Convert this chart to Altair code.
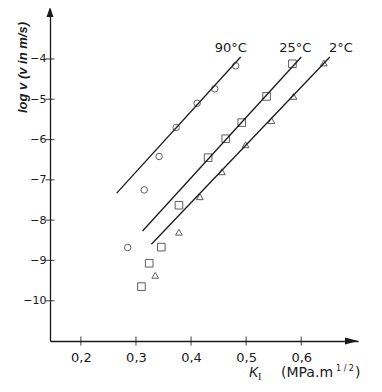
import altair as alt
import pandas as pd

# ---- data ----
k90 = [0.285, 0.315, 0.342, 0.373, 0.411, 0.443, 0.481]
v90 = [-8.68, -7.25, -6.42, -5.70, -5.10, -4.74, -4.17]
k25 = [0.310, 0.324, 0.346, 0.378, 0.431, 0.463, 0.492, 0.537, 0.584]
v25 = [-9.65, -9.07, -8.67, -7.63, -6.45, -5.98, -5.58, -4.93, -4.12]
k2 = [0.335, 0.378, 0.416, 0.456, 0.499, 0.546, 0.586, 0.641]
v2 = [-9.37, -8.30, -7.42, -6.80, -6.13, -5.53, -4.93, -4.10]

line_k90 = [0.265, 0.490]
line_v90 = [-7.33, -3.95]
line_k25 = [0.312, 0.600]
line_v25 = [-8.27, -3.95]
line_k2 = [0.328, 0.652]
line_v2 = [-8.60, -3.95]

series_labels = ["90°C", "25°C", "2°C"]
label_k = [0.472, 0.589, 0.672]
label_v = [-3.73, -3.73, -3.73]

xticks = [0.2, 0.3, 0.4, 0.5, 0.6]
yticks = [-10, -9, -8, -7, -6, -5, -4]

XDOM = [0.144, 0.703]
YDOM = [-11.0, -2.76]
W, H = 308, 332
FONT = "DejaVu Sans"
INK = "#1a1a1a"

xs = alt.Scale(domain=XDOM, nice=False, zero=False)
ys = alt.Scale(domain=YDOM, nice=False, zero=False)

pts = pd.DataFrame(
    {"K": k90 + k25 + k2,
     "v": v90 + v25 + v2,
     "s": ["90"] * len(k90) + ["25"] * len(k25) + ["2"] * len(k2)}
)
lines = pd.DataFrame(
    {"K": line_k90 + line_k25 + line_k2,
     "v": line_v90 + line_v25 + line_v2,
     "s": ["90", "90", "25", "25", "2", "2"]}
)
labs = pd.DataFrame({"K": label_k, "v": label_v, "t": series_labels})
xt = pd.DataFrame({"K": xticks})
yt = pd.DataFrame({"v": yticks})

x_axis = alt.Axis(
    values=xticks, ticks=False, tickSize=0, grid=False, domainColor=INK, domainWidth=1.3,
    labelExpr="replace(format(datum.value, '.1f'), '.', ',')",
    labelFont=FONT, labelFontSize=13, labelColor=INK, labelPadding=10, title=None,
)
y_axis = alt.Axis(
    values=yticks, ticks=False, tickSize=0, grid=False, domainColor=INK, domainWidth=1.3,
    format="d", labelFont=FONT, labelFontSize=11, labelColor=INK, labelPadding=4,
    title="log v  (v in m/s)", titleFont="Liberation Sans", titleFontSize=13,
    titleFontStyle="italic", titleFontWeight="bold", titleColor=INK,
    titleAngle=270, titleX=-28, titleY=58, titleAlign="center", titleBaseline="middle",
)

base_pts = alt.Chart(pts).encode(
    x=alt.X("K:Q", scale=xs, axis=x_axis),
    y=alt.Y("v:Q", scale=ys, axis=y_axis),
)

circles = base_pts.transform_filter("datum.s == '90'").mark_point(
    shape="circle", filled=False, color=INK, size=42, strokeWidth=1)
squares = base_pts.transform_filter("datum.s == '25'").mark_point(
    shape="square", filled=False, color=INK, size=58, strokeWidth=1)
tris = base_pts.transform_filter("datum.s == '2'").mark_point(
    shape="triangle-up", filled=False, color=INK, size=45, strokeWidth=1)

fit = alt.Chart(lines).mark_line(color=INK, strokeWidth=1.3).encode(
    x=alt.X("K:Q", scale=xs),
    y=alt.Y("v:Q", scale=ys),
    detail="s:N",
)

labels = alt.Chart(labs).mark_text(
    font=FONT, fontSize=13, color=INK, align="center", baseline="middle"
).encode(
    x=alt.X("K:Q", scale=xs),
    y=alt.Y("v:Q", scale=ys),
    text="t:N",
)

xtick_marks = alt.Chart(xt).mark_tick(
    orient="vertical", size=9, thickness=1.2, color=INK
).encode(x=alt.X("K:Q", scale=xs), y=alt.value(H))

ytick_marks = alt.Chart(yt).mark_tick(
    orient="horizontal", size=9, thickness=1.2, color=INK
).encode(y=alt.Y("v:Q", scale=ys), x=alt.value(0))

arrow_df = pd.DataFrame({"a": [0]})
y_arrow = alt.Chart(arrow_df).mark_point(
    shape="M0,-1 L0.7,1 L-0.7,1 Z", filled=True, color=INK, size=100, opacity=1
).encode(x=alt.value(0), y=alt.value(3))
x_arrow = alt.Chart(arrow_df).mark_point(
    shape="M1,0 L-1,-0.55 L-1,0.55 Z", filled=True, color=INK, size=169, opacity=1
).encode(x=alt.value(W - 6.5), y=alt.value(H))

t_style = dict(color=INK, baseline="middle", align="left")
k_main = alt.Chart(arrow_df).mark_text(
    text="K", font="Liberation Sans", fontSize=14, fontStyle="italic", **t_style
).encode(x=alt.value(199), y=alt.value(364))
k_sub = alt.Chart(arrow_df).mark_text(
    text="I", font="Liberation Serif", fontSize=10, **t_style
).encode(x=alt.value(208), y=alt.value(368))
unit_main = alt.Chart(arrow_df).mark_text(
    text="(MPa.m", font=FONT, fontSize=14, **t_style
).encode(x=alt.value(231), y=alt.value(364))
unit_sup = alt.Chart(arrow_df).mark_text(
    text="1 / 2", font=FONT, fontSize=8, **t_style
).encode(x=alt.value(286), y=alt.value(360))
unit_close = alt.Chart(arrow_df).mark_text(
    text=")", font=FONT, fontSize=14, **t_style
).encode(x=alt.value(305), y=alt.value(364))

chart = alt.layer(
    circles, squares, tris, fit, labels, xtick_marks, ytick_marks,
    y_arrow, x_arrow, k_main, k_sub, unit_main, unit_sup, unit_close,
).properties(
    width=W, height=H,
    padding={"left": 42, "top": 1, "right": 16, "bottom": 45},
    autosize=alt.AutoSizeParams(type="none"),
    background="white",
).configure_view(stroke=None)

chart.save("out.html", embed_options={"renderer": "svg", "actions": False})
